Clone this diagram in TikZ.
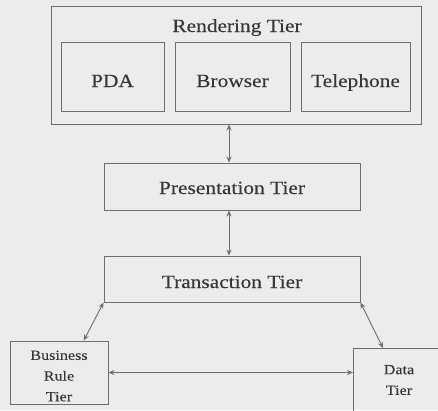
\documentclass[tikz,border=0pt]{standalone}
\usepackage{fontspec}
\setmainfont{Liberation Serif}[FakeStretch=1.15,FakeBold=0.15]
\usetikzlibrary{arrows.meta,calc}
\definecolor{paper}{HTML}{ECECEC}
\definecolor{edge}{HTML}{6E6E6E}
\definecolor{ink}{HTML}{363636}
\tikzset{
  box/.style={draw=edge, line width=0.9pt, inner sep=0pt, fill=none},
  label/.style={text=ink, inner sep=0pt, font=\fontsize{18.6}{22}\selectfont},
  small/.style={text=ink, inner sep=0pt, align=center, font=\fontsize{14}{20.7}\selectfont},
  link/.style={draw=edge, line width=0.9pt, {Stealth[length=6pt,width=5pt]}-{Stealth[length=6pt,width=5pt]}}
}
\begin{document}
\begin{tikzpicture}[x=1pt,y=-1pt]
  \fill[paper] (0,0) rectangle (438,410);
  \useasboundingbox (0,0) rectangle (438,410);
  \clip (0,0) rectangle (438,410);

  % rendering tier with its three clients
  \node[box, minimum width=370pt, minimum height=118pt] (render) at (236,65) {};
  \node[label, anchor=base] (rendtitle) at (237,32) {Rendering Tier};
  \node[box, minimum width=103pt, minimum height=69pt] (pda) at (112.5,76.5) {};
  \node[label, anchor=base] (pdatext) at (pda.center |- 0,87) {PDA};
  \node[box, minimum width=115pt, minimum height=69pt] (browser) at (232.5,76.5) {};
  \node[label, anchor=base] (browsertext) at (browser.center |- 0,87) {Browser};
  \node[box, minimum width=109pt, minimum height=69pt] (phone) at (355.5,76.5) {};
  \node[label, anchor=base] (phonetext) at (phone.center |- 0,87) {Telephone};

  % middle tiers
  \node[box, minimum width=256pt, minimum height=47pt] (pres) at (232,186.5) {};
  \node[label, anchor=base] (prestext) at (pres.center |- 0,194) {Presentation Tier};
  \node[box, minimum width=256pt, minimum height=46pt] (trans) at (232,279) {};
  \node[label, anchor=base] (transtext) at (trans.center |- 0,288) {Transaction Tier};

  % back-end tiers
  \node[box, minimum width=98pt, minimum height=63pt] (biz) at (59,372.5) {};
  \node[small] (biztext) at (59,376) {Business\\Rule\\Tier};
  \node[box, anchor=north west, minimum width=100pt, minimum height=80pt] (data) at (353,348) {};
  \node[small] (datatext) at (399,380) {Data\\Tier};

  % connectors
  \draw[link] (pres.north -| 229,0) -- (render.south -| 229,0);
  \draw[link] (trans.north -| 229,0) -- (pres.south -| 229,0);
  \draw[link] (trans.south west) -- ($(biz.north west)!0.75!(biz.north east)$);
  \draw[link] (trans.south east) -- ($(data.north west)+(30,0)$);
  \draw[link] (biz.east) -- (biz.east -| data.west);
\end{tikzpicture}
\end{document}
